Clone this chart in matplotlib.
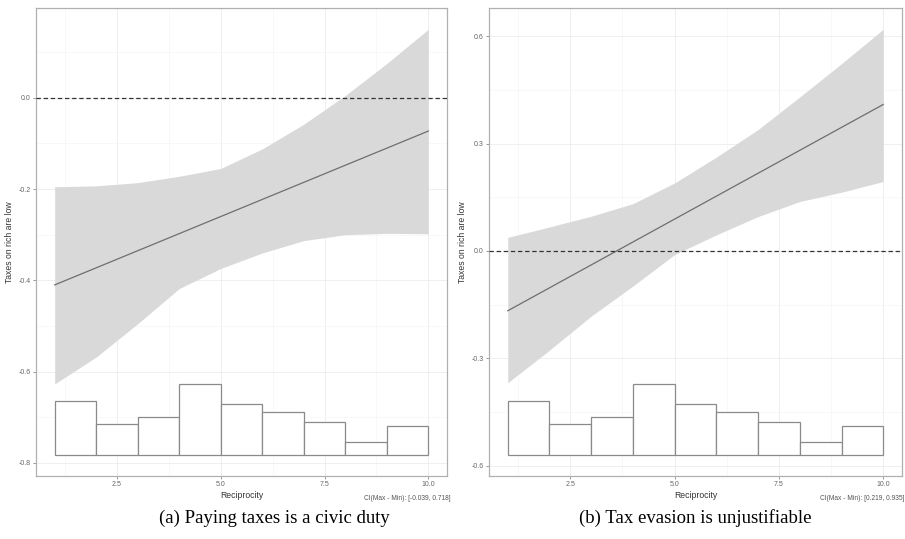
import numpy as np
import matplotlib.pyplot as plt
from matplotlib.ticker import MultipleLocator

plt.rcParams["font.family"] = ["Liberation Sans", "DejaVu Sans"]

# moderator grid and histogram of Reciprocity (bins 1..10)
x_grid = [1, 2, 3, 4, 5, 6, 7, 8, 9, 10]
hist_edges = [1, 2, 3, 4, 5, 6, 7, 8, 9, 10]
hist_freq = [54, 31, 38, 71, 51, 43, 32.5, 13, 29]

# (a) Paying taxes is a civic duty
a_line_x = [1, 10]
a_line_y = [-0.410, -0.073]
a_ci_upper = [-0.195, -0.193, -0.186, -0.172, -0.155, -0.112, -0.058, 0.005, 0.075, 0.150]
a_ci_lower = [-0.627, -0.568, -0.495, -0.418, -0.374, -0.340, -0.313, -0.300, -0.297, -0.298]
a_hist_base = -0.782
a_yticks = [-0.8, -0.6, -0.4, -0.2, 0.0]
a_note = "CI(Max - Min): [-0.039, 0.718]"
a_caption = "(a) Paying taxes is a civic duty"

# (b) Tax evasion is unjustifiable
b_line_x = [1, 10]
b_line_y = [-0.167, 0.409]
b_ci_upper = [0.038, 0.067, 0.097, 0.132, 0.190, 0.262, 0.339, 0.430, 0.523, 0.619]
b_ci_lower = [-0.368, -0.277, -0.182, -0.098, -0.010, 0.045, 0.096, 0.138, 0.164, 0.194]
b_hist_base = -0.569
b_yticks = [-0.6, -0.3, 0.0, 0.3, 0.6]
b_note = "CI(Max - Min): [0.219, 0.935]"
b_caption = "(b) Tax evasion is unjustifiable"

W, H = 905, 539
fig = plt.figure(figsize=(W / 100, H / 100), dpi=100)


def px_axes(x0, y0, x1, y1):
    return fig.add_axes([x0 / W, 1 - y1 / H, (x1 - x0) / W, (y1 - y0) / H])


def draw_panel(ax, line_x, line_y, upper, lower, base, yticks, ystep):
    top = max(upper)
    span = top - base
    ax.set_ylim(base - 0.05 * span, top + 0.05 * span)
    ax.set_xlim(0.55, 10.45)

    ax.fill_between(x_grid, lower, upper, color="#d9d9d9", lw=0, zorder=2)
    ax.plot(line_x, line_y, color="#6e6e6e", lw=0.9, zorder=3)
    ax.axhline(0, color="#333333", lw=0.9, ls=(0, (3.5, 2.2)), zorder=4)

    # histogram of the moderator along the bottom
    hmax = max(hist_freq)
    heights = [h / hmax * 0.167 * span for h in hist_freq]
    ax.bar(hist_edges[:-1], heights, width=1, bottom=base, align="edge",
           facecolor="white", edgecolor="#8a8a8a", lw=0.9, zorder=2)

    ax.set_yticks(yticks)
    ax.yaxis.set_minor_locator(MultipleLocator(ystep / 2))
    ax.set_xticks([2.5, 5.0, 7.5, 10.0])
    ax.xaxis.set_minor_locator(MultipleLocator(1.25))
    ax.set_yticklabels([f"{v:.1f}" for v in yticks])
    ax.set_xticklabels(["2.5", "5.0", "7.5", "10.0"])

    ax.grid(True, which="major", color="#ececec", lw=0.6, zorder=0)
    ax.grid(True, which="minor", color="#f4f4f4", lw=0.4, zorder=0)
    ax.set_axisbelow(True)
    ax.tick_params(which="major", length=2.2, width=0.6, color="#888888",
                   labelsize=5, labelcolor="#666666", pad=1.5)
    ax.tick_params(which="minor", length=0)
    for s in ax.spines.values():
        s.set_color("#b0b0b0")
        s.set_linewidth(0.9)

    ax.set_xlabel("Reciprocity", fontsize=6.2, color="#333333", labelpad=2)
    ax.set_ylabel("Taxes on rich are low", fontsize=6.2, color="#333333", labelpad=3)


ax_a = px_axes(36, 8, 447, 476)
draw_panel(ax_a, a_line_x, a_line_y, a_ci_upper, a_ci_lower, a_hist_base, a_yticks, 0.2)
ax_b = px_axes(489, 8, 902, 476)
draw_panel(ax_b, b_line_x, b_line_y, b_ci_upper, b_ci_lower, b_hist_base, b_yticks, 0.3)

fig.text(451 / W, 1 - 498 / H, a_note, fontsize=4.8, color="#555555", ha="right", va="center")
fig.text(904 / W, 1 - 498 / H, b_note, fontsize=4.8, color="#555555", ha="right", va="center")

fig.text(274 / W, 1 - 518 / H, a_caption, fontsize=13.5, family="Liberation Serif",
         ha="center", va="center")
fig.text(695 / W, 1 - 518 / H, b_caption, fontsize=13.5, family="Liberation Serif",
         ha="center", va="center")

fig.savefig("out.png", dpi=100)
